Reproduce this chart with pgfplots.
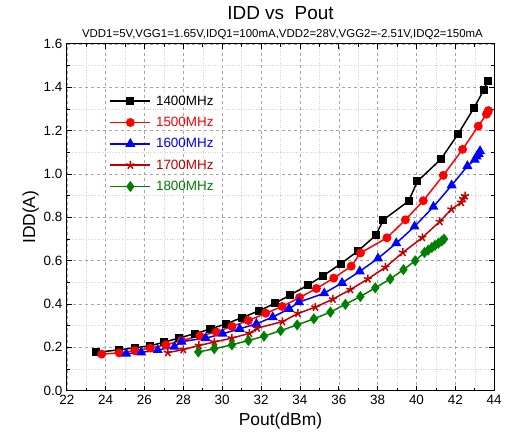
\documentclass[border=0pt]{standalone}
\usepackage{fontspec}
\setmainfont{Liberation Sans}
\usepackage{pgfplots}
\pgfplotsset{compat=1.18}
\usetikzlibrary{calc}
\definecolor{dred}{RGB}{192,0,0}
\definecolor{dgreen}{RGB}{0,128,0}
\begin{document}
\begin{tikzpicture}
\begin{axis}[
  scale only axis,
  width=429pt, height=348pt,
  xmin=22, xmax=44, ymin=0, ymax=1.6,
  xtick={22,24,...,44},
  ytick={0,0.2,...,1.6},
  minor x tick num=1,
  minor y tick num=1,
  tick align=inside,
  major tick length=5pt,
  minor tick length=3pt,
  grid=both,
  major grid style={gray!70, dashed, line width=0.5pt},
  minor grid style={gray!35, dotted, line width=0.5pt},
  axis line style={black, line width=1pt},
  tick style={black, line width=0.7pt},
  ticklabel style={font=\fontsize{13.5}{15}\selectfont},
  /pgf/number format/assume math mode=true,
  yticklabel style={xshift=-1pt, /pgf/number format/.cd, fixed, fixed zerofill, precision=1},
  xticklabel style={yshift=-1pt, /pgf/number format/.cd, fixed, precision=0},
  xlabel={Pout(dBm)},
  ylabel={IDD(A)},
  label style={font=\fontsize{17.5}{19}\selectfont},
  xlabel style={yshift=-1pt},
  ylabel style={yshift=-2pt},
  legend style={at={(rel axis cs:0.1,0.851)}, anchor=north west, draw=none, fill=none,
    font=\fontsize{13.5}{15}\selectfont, row sep=10.5pt, column sep=2pt, inner sep=0pt, nodes={inner xsep=3pt, inner ysep=0pt}},
  legend cell align=left,
  legend image code/.code={\draw[mark repeat=2,mark phase=2] plot coordinates {(0pt,0pt)(20pt,0pt)(40pt,0pt)};},
  every axis plot/.append style={line width=1.5pt},
]
\addplot[black, mark=square*, mark size=3.3pt, mark options={solid}] coordinates {
(23.5,0.176)(24.7,0.188)(25.5,0.197)(26.3,0.207)(27.0,0.223)(27.8,0.243)(28.6,0.263)(29.4,0.284)
(30.2,0.308)(31.0,0.336)(31.9,0.368)(32.7,0.402)(33.5,0.441)(34.4,0.486)(35.2,0.530)(36.1,0.585)
(37.0,0.645)(37.9,0.716)(38.3,0.788)(39.6,0.875)(40.05,0.966)(41.25,1.067)(42.15,1.185)(42.97,1.306)
(43.47,1.388)(43.66,1.427)};
\addlegendentry{1400MHz}
\addplot[red, mark=*, mark size=3.7pt] coordinates {
(23.8,0.168)(24.7,0.174)(25.5,0.184)(26.3,0.196)(27.1,0.211)(27.9,0.231)(28.85,0.252)(29.7,0.270)
(30.5,0.296)(31.35,0.323)(32.24,0.357)(33.09,0.388)(33.98,0.429)(34.85,0.471)(35.74,0.519)(36.64,0.574)
(37.12,0.635)(38.48,0.705)(39.43,0.788)(40.35,0.876)(41.38,0.993)(42.37,1.113)(43.18,1.220)
(43.6,1.275)(43.68,1.285)(43.7,1.292)};
\addlegendentry{\textcolor{red}{1500MHz}}
\addplot[blue, mark=triangle*, mark size=4.4pt] coordinates {
(25.06,0.170)(25.83,0.176)(26.68,0.187)(27.54,0.202)(27.91,0.226)(29.15,0.242)(30.02,0.262)(30.9,0.285)
(31.76,0.308)(32.6,0.339)(33.44,0.377)(33.95,0.408)(35.25,0.449)(36.17,0.497)(37.08,0.550)(38.02,0.610)
(38.96,0.680)(39.90,0.757)(40.87,0.848)(41.81,0.947)(42.62,1.036)(43.0,1.065)(43.1,1.080)(43.2,1.092)
(43.27,1.105)};
\addlegendentry{\textcolor{blue}{1600MHz}}
\addplot[dred, mark=star, mark size=4.3pt, mark options={line width=1.5pt}] coordinates {
(27.2,0.175)(28.0,0.189)(28.8,0.208)(29.6,0.224)(30.5,0.242)(31.4,0.264)(31.8,0.288)(33.1,0.318)
(33.9,0.356)(34.8,0.385)(35.7,0.422)(36.6,0.466)(37.5,0.515)(38.4,0.569)(39.3,0.637)(40.3,0.706)
(41.2,0.780)(41.8,0.837)(42.3,0.868)(42.4,0.885)(42.5,0.898)};
\addlegendentry{\textcolor{dred}{1700MHz}}
\addplot[dgreen, mark=diamond*, mark size=4.4pt] coordinates {
(28.77,0.178)(29.59,0.193)(30.50,0.211)(31.35,0.231)(32.15,0.251)(33.01,0.277)(33.86,0.303)(34.72,0.331)
(35.57,0.362)(36.34,0.398)(37.11,0.434)(37.88,0.474)(38.65,0.515)(39.33,0.558)(39.93,0.599)(40.41,0.637)
(40.6,0.648)(40.79,0.660)(40.95,0.670)(41.13,0.680)(41.3,0.690)(41.42,0.699)};
\addlegendentry{\textcolor{dgreen}{1800MHz}}
\end{axis}
\node[font=\fontsize{19}{21}\selectfont, anchor=base] at ($(current axis.north)+(0,24pt)$) {IDD vs\ \ Pout};
\node[font=\fontsize{11.5}{13}\selectfont, anchor=base] at ($(current axis.north)+(2pt,6pt)$) {VDD1=5V,VGG1=1.65V,IDQ1=100mA,VDD2=28V,VGG2=-2.51V,IDQ2=150mA};
\path ($(current axis.south west)+(-67pt,-47pt)$) rectangle ($(current axis.north east)+(9pt,44pt)$);
\end{tikzpicture}
\end{document}
